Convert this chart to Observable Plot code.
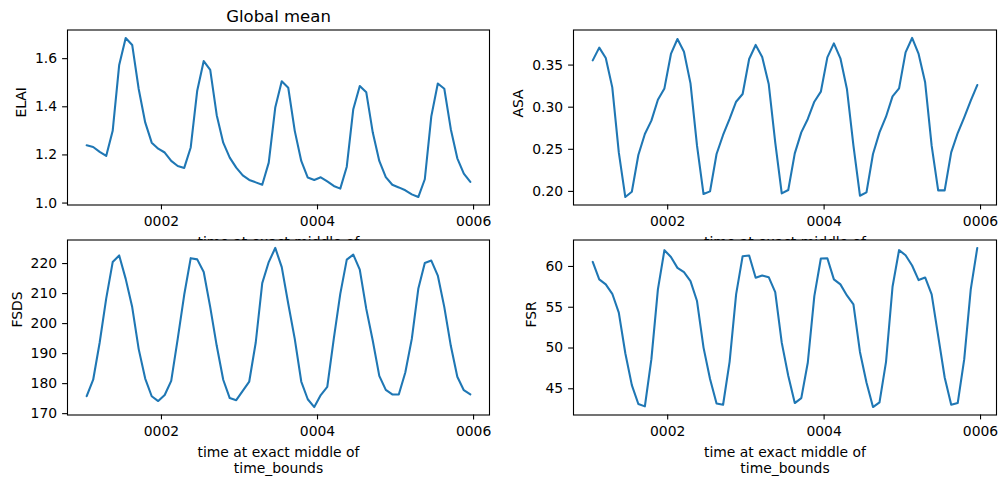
<!DOCTYPE html>
<html>
<head>
<meta charset="utf-8">
<script src="https://cdn.jsdelivr.net/npm/d3@7"></script>
<script src="https://cdn.jsdelivr.net/npm/@observablehq/plot@0.6"></script>
<style>
  html, body { margin: 0; padding: 0; background: white; }
  #fig { position: relative; width: 1007px; height: 484px; overflow: hidden; background: white; }
</style>
</head>
<body>
<div id="fig"></div>
<script>
// ---- data (monthly values, years 0001-0005) ----
const years = [1, 2, 3, 4, 5];
const months = [0, 1, 2, 3, 4, 5, 6, 7, 8, 9, 10, 11];

const elai = [
  1.240, 1.233, 1.213, 1.196, 1.300, 1.574, 1.686, 1.657, 1.474, 1.335, 1.251, 1.226,
  1.210, 1.175, 1.154, 1.146, 1.231, 1.467, 1.590, 1.553, 1.365, 1.251, 1.189, 1.147,
  1.115, 1.096, 1.086, 1.076, 1.168, 1.397, 1.506, 1.479, 1.300, 1.175, 1.106, 1.096,
  1.107, 1.090, 1.071, 1.060, 1.151, 1.390, 1.486, 1.460, 1.293, 1.175, 1.108, 1.076,
  1.065, 1.053, 1.036, 1.025, 1.099, 1.360, 1.497, 1.475, 1.307, 1.186, 1.122, 1.088
];
const asa = [
  0.3556, 0.3707, 0.3584, 0.3235, 0.2463, 0.1933, 0.1996, 0.2432, 0.2682, 0.2840, 0.3089, 0.3223,
  0.3632, 0.3810, 0.3659, 0.3283, 0.2543, 0.1969, 0.2000, 0.2444, 0.2670, 0.2860, 0.3065, 0.3157,
  0.3572, 0.3739, 0.3596, 0.3276, 0.2582, 0.1976, 0.2017, 0.2451, 0.2701, 0.2860, 0.3065, 0.3184,
  0.3592, 0.3758, 0.3580, 0.3216, 0.2543, 0.1949, 0.1988, 0.2444, 0.2701, 0.2887, 0.3128, 0.3223,
  0.3651, 0.3822, 0.3632, 0.3295, 0.2543, 0.2012, 0.2012, 0.2463, 0.2693, 0.2879, 0.3077, 0.3263
];
const fsds = [
  175.8, 181.3, 193.7, 208.3, 220.5, 222.7, 214.9, 205.5, 191.5, 181.7, 175.8, 174.2,
  176.2, 180.9, 194.9, 209.6, 221.8, 221.4, 217.2, 205.5, 192.6, 181.3, 175.2, 174.5,
  177.6, 180.7, 193.7, 213.5, 220.5, 225.2, 218.8, 206.6, 194.9, 180.7, 174.8, 172.2,
  176.2, 178.9, 194.9, 209.9, 221.3, 223.0, 218.0, 204.9, 194.3, 182.6, 177.9, 176.4,
  176.4, 183.7, 194.9, 211.6, 220.2, 221.0, 216.0, 205.5, 192.6, 182.3, 177.8, 176.4
];
const fsr = [
  60.56, 58.41, 57.80, 56.65, 54.33, 49.36, 45.45, 43.13, 42.84, 48.63, 57.19, 62.00,
  61.17, 59.83, 59.30, 58.20, 55.76, 50.05, 46.19, 43.20, 43.04, 48.30, 56.58, 61.26,
  61.34, 58.61, 58.90, 58.69, 56.86, 50.66, 46.59, 43.25, 43.86, 48.22, 56.37, 60.98,
  61.01, 58.41, 57.80, 56.45, 55.35, 49.52, 45.77, 42.76, 43.33, 48.30, 57.51, 62.00,
  61.38, 60.12, 58.33, 58.65, 56.58, 51.48, 46.38, 43.04, 43.25, 48.63, 57.19, 62.27
];

const xTicks = [2, 4, 6];
const elaiTicks = [1.0, 1.2, 1.4, 1.6];
const asaTicks = [0.20, 0.25, 0.30, 0.35];
const fsdsTicks = [170, 180, 190, 200, 210, 220];
const fsrTicks = [45, 50, 55, 60];

const titleText = "Global mean";
const xLabelText = "time at exact middle of\ntime_bounds";

// ---- build tables ----
const times = years.flatMap(y => months.map(m => y + (m + 0.5) / 12));
const table = vals => vals.map((v, i) => ({t: times[i], v}));

const W = 1007, H = 484;
const tExt = d3.extent(times);
const tPad = (tExt[1] - tExt[0]) * 0.05;
const xDomain = [tExt[0] - tPad, tExt[1] + tPad];

function panel({vals, yTicks, yFmt, label, left, right, top, bottom, labelDx, title, cover}) {
  const data = table(vals);
  const ext = d3.extent(vals);
  const pad = (ext[1] - ext[0]) * 0.05;
  return Plot.plot({
    width: W, height: H,
    marginLeft: left, marginRight: W - right, marginTop: top, marginBottom: H - bottom,
    style: {position: "absolute", left: "0px", top: "0px", background: "transparent",
            overflow: "visible", fontFamily: "DejaVu Sans", fontSize: "13.9px", color: "black"},
    x: {domain: xDomain},
    y: {domain: [ext[0] - pad, ext[1] + pad]},
    marks: [
      cover ? Plot.frame({fill: "white", stroke: "none"}) : null,
      Plot.line(data, {x: "t", y: "v", stroke: "#1f77b4", strokeWidth: 2.08}),
      Plot.frame({stroke: "black", strokeWidth: 1.1}),
      Plot.axisX({ticks: xTicks, tickFormat: d => String(d).padStart(4, "0"), tickSize: 4.9,
                  tickPadding: 6.5, label: null, strokeWidth: 1.1, fontSize: 13.9}),
      Plot.axisY({ticks: yTicks, tickFormat: yFmt, tickSize: 4.9, tickPadding: 5.5,
                  label: null, strokeWidth: 1.1, fontSize: 13.9}),
      Plot.text([label], {text: d => d, frameAnchor: "left", rotate: -90, dx: labelDx,
                          fontSize: 13.9, fill: "black"}),
      Plot.text([xLabelText], {text: d => d, frameAnchor: "bottom", lineAnchor: "top",
                               dy: 29.7, lineHeight: 1.2, fontSize: 13.9, fill: "black"}),
      title ? Plot.text([title], {text: d => d, frameAnchor: "top", lineAnchor: "bottom",
                                  dy: -7.8, fontSize: 16.5, fill: "black"}) : null
    ]
  });
}

const fig = document.getElementById("fig");
fig.append(panel({vals: elai, yTicks: elaiTicks, yFmt: d3.format(".1f"), label: "ELAI",
  left: 67, right: 489, top: 29.5, bottom: 204.5, labelDx: -46, title: titleText}));
fig.append(panel({vals: asa, yTicks: asaTicks, yFmt: d3.format(".2f"), label: "ASA",
  left: 573, right: 996, top: 29.5, bottom: 204.5, labelDx: -54.5}));
fig.append(panel({vals: fsds, yTicks: fsdsTicks, yFmt: d3.format("d"), label: "FSDS",
  left: 67, right: 489, top: 239.5, bottom: 414.5, labelDx: -50.4, cover: true}));
fig.append(panel({vals: fsr, yTicks: fsrTicks, yFmt: d3.format("d"), label: "FSR",
  left: 573, right: 996, top: 239.5, bottom: 414.5, labelDx: -41.7, cover: true}));
</script>
</body>
</html>
